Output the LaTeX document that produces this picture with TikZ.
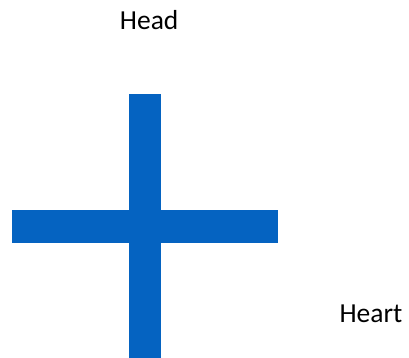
\documentclass[tikz,border=0pt]{standalone}
\usepackage{fontspec}
\setmainfont{Carlito}
\definecolor{crossblue}{HTML}{0563C1}
\begin{document}
\begin{tikzpicture}[x=1pt,y=1pt,
  bar/.style={fill=crossblue,draw=none},
  lbl/.style={inner sep=0pt,anchor=base,font=\fontsize{27.5}{33}\selectfont}]
\useasboundingbox (0,0) rectangle (409,358);
\fill[bar] (129,0) rectangle (161,264);
\fill[bar] (12,115.3) rectangle (278,147.7);
\node[lbl] (head) at (149.2,328) {Head};
\node[lbl] (heart) at (371,35.4) {Heart};
\end{tikzpicture}
\end{document}
